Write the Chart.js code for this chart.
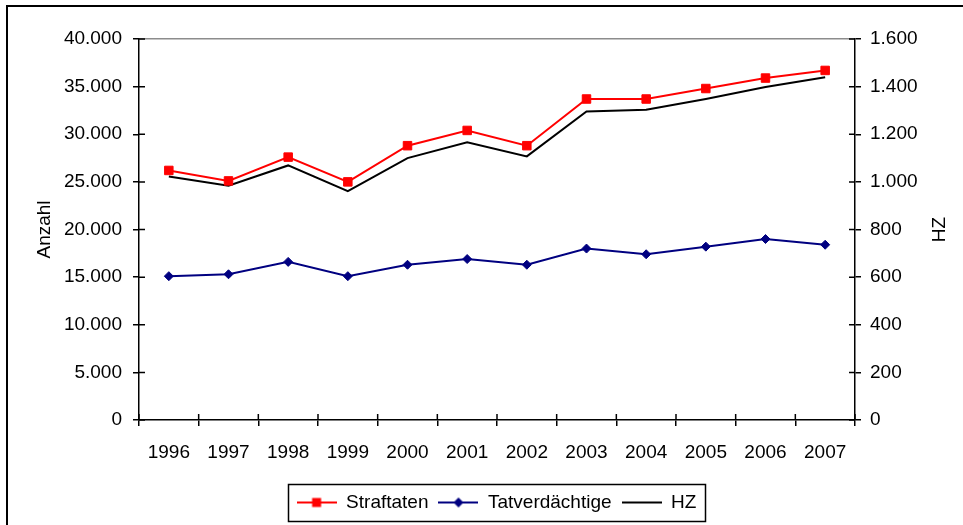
<!DOCTYPE html>
<html>
<head>
<meta charset="utf-8">
<script src="https://cdn.jsdelivr.net/npm/chart.js@4/dist/chart.umd.min.js"></script>
<style>
  html, body { margin: 0; padding: 0; background: #fff; }
</style>
</head>
<body>
<canvas id="c" width="963" height="525"></canvas>
<script>
// values
const years = ['1996', '1997', '1998', '1999', '2000', '2001', '2002', '2003', '2004', '2005', '2006', '2007'];
const straftaten = [26200, 25100, 27600, 25000, 28800, 30400, 28800, 33700, 33700, 34800, 35900, 36700];
const tatverdaechtige = [15100, 15300, 16600, 15100, 16300, 16900, 16300, 18000, 17400, 18200, 19000, 18400];
const hz = [1023, 984, 1069, 961, 1100, 1166, 1107, 1296, 1303, 1348, 1398, 1439];
const leftMax = 40000, leftStep = 5000;
const rightMax = 1600, rightStep = 200;

const FONT = '"Liberation Sans", Arial, sans-serif';
const fmt = v => String(v).replace(/\B(?=(\d{3})+(?!\d))/g, '.');

// little legend symbols: line with marker
function legendIcon(color, marker) {
  const c = document.createElement('canvas');
  c.width = 40; c.height = 14;
  const g = c.getContext('2d');
  g.strokeStyle = color; g.lineWidth = 2;
  g.beginPath(); g.moveTo(0, 7); g.lineTo(40, 7); g.stroke();
  g.fillStyle = color;
  if (marker === 'rect') g.fillRect(15.5, 2.5, 9, 9);
  if (marker === 'diamond') {
    g.beginPath(); g.moveTo(20, 2); g.lineTo(25, 7); g.lineTo(20, 12); g.lineTo(15, 7); g.closePath(); g.fill();
  }
  return c;
}
const icons = [legendIcon('#ff0000', 'rect'), legendIcon('#000080', 'diamond'), legendIcon('#000000', null)];

const extras = {
  id: 'extras',
  beforeDraw(chart) {
    const ctx = chart.ctx;
    ctx.save();
    ctx.fillStyle = '#000';
    ctx.fillRect(6, 5, 2, 520);
    ctx.fillRect(6, 5, 957, 2);
    ctx.restore();
  },
  afterDraw(chart) {
    const { ctx, chartArea: a, scales: { x, y, y1 } } = chart;
    ctx.save();
    // inner halves of the crossing tick marks
    ctx.strokeStyle = '#000';
    ctx.lineWidth = 1.5;
    ctx.beginPath();
    y.ticks.forEach((t, i) => { const p = y.getPixelForTick(i); ctx.moveTo(a.left, p); ctx.lineTo(a.left + 6, p); });
    y1.ticks.forEach((t, i) => { const p = y1.getPixelForTick(i); ctx.moveTo(a.right, p); ctx.lineTo(a.right - 6, p); });
    const half = (x.getPixelForTick(1) - x.getPixelForTick(0)) / 2;
    for (let i = 0; i <= years.length; i++) {
      const p = x.getPixelForTick(0) - half + i * 2 * half;
      ctx.moveTo(p, a.bottom); ctx.lineTo(p, a.bottom - 6);
    }
    ctx.stroke();

    // right axis title (reads upward like the left one)
    ctx.fillStyle = '#000';
    ctx.font = '19px ' + FONT;
    ctx.textAlign = 'center';
    ctx.textBaseline = 'middle';
    ctx.translate(940, (a.top + a.bottom) / 2);
    ctx.rotate(-Math.PI / 2);
    ctx.fillText('HZ', 0, 0);
    ctx.restore();

    // legend frame
    const hb = chart.legend.legendHitBoxes;
    if (hb && hb.length) {
      const last = hb[hb.length - 1];
      const l = hb[0].left - 9, r = last.left + last.width + 8;
      const t = hb[0].top - 9, b = hb[0].top + 28;
      ctx.save();
      ctx.strokeStyle = '#000';
      ctx.lineWidth = 1.5;
      ctx.strokeRect(Math.round(l) + 0.5, Math.round(t) + 0.5, Math.round(r - l), Math.round(b - t));
      ctx.restore();
    }
  }
};

Chart.defaults.font.family = FONT;
Chart.defaults.font.size = 19;
Chart.defaults.color = '#000';

new Chart(document.getElementById('c'), {
  type: 'line',
  data: {
    labels: years,
    datasets: [
      {
        label: 'Straftaten', data: straftaten, yAxisID: 'y',
        borderColor: '#ff0000', backgroundColor: '#ff0000', borderWidth: 2,
        pointStyle: 'rect', pointRadius: 6, pointBorderWidth: 1, tension: 0
      },
      {
        label: 'Tatverdächtige', data: tatverdaechtige, yAxisID: 'y',
        borderColor: '#000080', backgroundColor: '#000080', borderWidth: 2,
        pointStyle: 'rectRot', pointRadius: 4.5, pointBorderWidth: 1, tension: 0
      },
      {
        label: 'HZ', data: hz, yAxisID: 'y1',
        borderColor: '#000000', backgroundColor: '#000000', borderWidth: 2,
        pointRadius: 0, tension: 0
      }
    ]
  },
  options: {
    responsive: false,
    animation: false,
    layout: { padding: { left: 30, right: 0, top: 39, bottom: 3 } },
    plugins: {
      tooltip: { enabled: false },
      legend: {
        position: 'bottom',
        labels: {
          usePointStyle: true,
          pointStyleWidth: 40,
          padding: 10,
          font: { size: 19 },
          generateLabels: chart => chart.data.datasets.map((ds, i) => ({
            text: ds.label, pointStyle: icons[i], datasetIndex: i,
            hidden: false, lineWidth: 0, strokeStyle: 'rgba(0,0,0,0)', fillStyle: 'rgba(0,0,0,0)'
          }))
        }
      }
    },
    scales: {
      x: {
        offset: true,
        grid: { offset: true, drawOnChartArea: false, tickLength: 6, color: '#000', lineWidth: 1.5 },
        border: { color: '#000', width: 1.5 },
        ticks: { autoSkip: false, maxRotation: 0, padding: 15 },
        afterFit: s => { s.height = 63; }
      },
      y: {
        position: 'left',
        min: 0, max: leftMax,
        ticks: { stepSize: leftStep, padding: 11, callback: v => fmt(v) },
        grid: {
          drawOnChartArea: true, tickLength: 6, tickColor: '#000', tickWidth: 1.5,
          color: c => (c.tick && c.tick.value === leftMax ? '#8c8c8c' : 'rgba(0,0,0,0)'),
          lineWidth: 1.5
        },
        border: { color: '#000', width: 1.5 },
        title: { display: true, text: 'Anzahl', padding: { top: 3, bottom: 0 } },
        afterFit: s => { s.width = 109; }
      },
      y1: {
        position: 'right',
        min: 0, max: rightMax,
        ticks: { stepSize: rightStep, padding: 9, callback: v => fmt(v) },
        grid: { drawOnChartArea: false, tickLength: 6, color: '#000', lineWidth: 1.5 },
        border: { color: '#000', width: 1.5 },
        afterFit: s => { s.width = 108; }
      }
    }
  },
  plugins: [extras]
});
</script>
</body>
</html>
